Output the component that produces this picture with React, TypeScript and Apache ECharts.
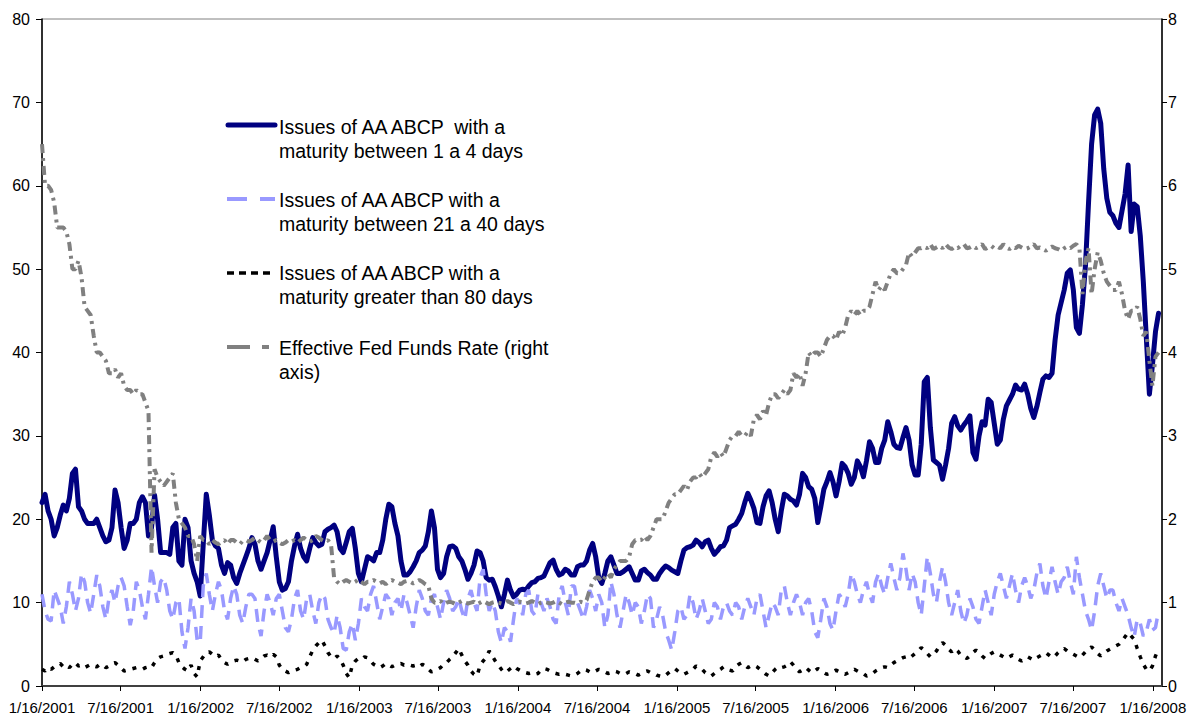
import React, { useEffect, useRef } from "react";
import * as echarts from "echarts";

// Weekly observations starting 1/16/2001
const START_Y = 2001, START_M = 0, START_D = 16;

const tickLabels = [
  "1/16/2001", "7/16/2001", "1/16/2002", "7/16/2002", "1/16/2003", "7/16/2003",
  "1/16/2004", "7/16/2004", "1/16/2005", "7/16/2005", "1/16/2006", "7/16/2006",
  "1/16/2007", "7/16/2007", "1/16/2008",
];
const axisEnd = "2/6/2008";

const legendNames = [
  "Issues of AA ABCP  with a\nmaturity between 1 a 4 days",
  "Issues of AA ABCP with a\nmaturity between 21 a 40 days",
  "Issues of AA ABCP with a\nmaturity greater than 80 days",
  "Effective Fed Funds Rate (right\naxis)",
];

const short1to4 = [
  22,23,21,20,18,19,20.5,21.7,21,22.5,
  25.5,26,21.5,21,20,19.5,19.5,19.5,20,19,
  18,17.3,17.5,19,23.5,22,19,16.5,17.5,19.5,
  19.5,20,22,22.7,22,18,19,22.9,20,16,
  16,16,15.8,19,19.5,15,14.5,20,19,15,
  13.5,12.5,10.8,17,23,20.5,17.5,16.8,16.5,14.5,
  13.5,14.8,14.5,13,12.3,13.5,14.5,15.5,16.5,17.8,
  17,15,14,15,16,17.5,19.1,15.5,12.5,11.5,
  11.7,12.5,15,16.8,18.2,16.5,15.5,15,16.5,17.8,
  17.2,16.8,17,18.5,18.8,19,19.3,18.5,16.5,16,
  17.2,18.5,18.9,16.5,13.5,12.5,14,15.5,15.3,15,
  16,16,17.5,20,21.8,21.5,19.5,18,15,13.3,
  13.3,13.7,14.3,15,16,16.3,16.8,18.5,21,19,
  14,13,13.5,15.5,16.7,16.8,16.5,15.5,15,14,
  12.8,13.5,14.5,16.2,16,15,13,12.7,12.8,11.9,
  10.8,9.5,11,12.7,11.5,10.7,11,11.5,11.6,11.5,
  12,12.4,12.5,12.9,13,13.2,14,14.8,15.1,14,
  13.3,13.5,14,13.8,13.3,13.3,14.3,14.5,14.5,15,
  16.3,17.1,15.5,13,12.3,13.5,15,15.5,14.5,13.5,
  13.5,13.7,14,14.3,13.5,12.7,12.7,13.8,14,13.6,
  13.3,12.8,12.8,13.5,14,14.4,14.2,13.9,13.7,13.5,
  15,16.3,16.6,16.7,16.9,17.5,17.2,16.7,17.3,17.5,
  16.5,15.8,16.2,16.7,16.8,17.5,19,19.2,19.4,20,
  20.7,22,23.1,22.3,21.3,19.6,19.5,21.5,22.8,23.4,
  22,20,18.5,21,23,22.8,22.4,22.2,21.7,23,
  25.5,25,23.9,23.6,22.5,19.6,21.5,23.6,24.5,25.6,
  24.5,22.8,24.5,26.7,26.3,25.5,24.2,25,27,26.3,
  25.1,27,29.3,28.5,26.8,26.8,28.5,29.5,31.7,30.5,
  29,28.6,28.5,29.8,31,29.5,26.5,25.3,25.3,29,
  36.5,37,31,27.1,26.8,26.5,24.8,26.5,28.5,31.5,
  32.3,31.2,30.7,31.3,31.8,32.4,28,27.2,30,31.7,
  31.3,34.4,34,31.5,29,29.5,32,33.6,34.3,35,
  36.1,35.6,35.5,36.2,35,33.3,32.2,33.5,35.2,36.8,
  37.2,37,37.5,41.5,44.5,46,47.5,49.5,49.9,47.5,
  43,42.3,45.8,50.5,58,65,68.5,69.2,67.5,62,
  58.5,56.8,56.4,55.5,55,57,59,62.5,54.5,57.8,
  57.5,54,48.5,41.7,35,38.5,42.5,44.7,
];

const mid21to40 = [
  11,9,8,7.8,11.5,10.5,9.5,7.5,9.5,12.5,
  11,9,10.5,13.5,12.5,10,8.7,11,13.3,12,
  9.5,8,10.5,11.5,10,12,13,12,9.5,7.3,
  9,12.5,11.5,9.5,8,11,14.3,12,10,12.5,
  13,11.5,9,8,10,10.5,6.5,4.5,7,10.5,
  9,5.5,5.2,12,13.5,11,9,11,12.5,11.5,
  9,8,10.5,12,11,8.5,7.5,9.5,11,11,
  10.5,7.5,6,9,11,10,8.5,10.5,11,9,
  7,6.5,8,10.5,11.5,9,8,10.5,11,9,
  7.5,10,11,10.5,8,7,6.3,8.5,7,4.5,
  4.3,6.5,7.5,5.5,7.5,10.5,9.5,9,11,12,
  10,8,9.5,11,10.5,8.5,10,10.5,9,11,
  10,8.5,7,9.5,11.5,10.5,9,8.5,10.5,11,
  9.5,8,10,11.5,10.5,9,9.5,10.5,9,8,
  10.5,11.5,10,9,13,14,11,9,10,9,
  6.5,5.2,7,6.5,5.3,8,10.5,10,8.5,11,
  11.5,9,8.5,11,10,9,10.5,9.5,8,7.5,
  11,12,10,8.5,12,12,10,9,8,9.5,
  11.5,10.5,9,11,10,7,8.5,12.5,11,8.5,
  7,9,11,10,8.5,10,9.5,7.5,9,11,
  10.5,7,8,9.5,8.5,6.5,5.5,4.3,6.5,9,
  9.5,8,8.5,11,10,8,9,10.5,9,7.5,
  8,10,9.5,8,9.5,10,9,8.5,10,9.5,
  8,9.5,10.5,9.5,8.5,10.5,11,9,7,8.5,
  10,9.5,8.5,11.5,12,10,8.5,10,11,10,
  8.5,10,10.5,9,6.5,5.8,8,10.5,9.5,7.5,
  6.7,9,11,10.5,9.5,11,13.5,12.5,11,10,
  11.5,12.5,11,10,12.5,13.5,12,11,13,14.7,
  13,11.5,13,15.9,14,11.5,13.5,12.5,10,8.5,
  12,15.5,13.5,11,10,12.5,14.3,12.5,10,8.5,
  10,11.5,9,7.5,8.5,10.5,9.5,8,7.5,9.5,
  11.5,10,8.5,11,12.5,13.5,12,10.5,12,13.5,
  11.5,10,12,13,12,10.5,11.5,13.5,14.7,12,
  10.5,12.5,14.3,12.5,11,12.5,13,14.3,12.5,11,
  15.5,13,11,9,8,6.7,9,12,13.5,12,
  10.5,11.5,11.5,10,9,10.5,9.5,8.5,7,5.9,
  8,7.5,6,6.5,8,6.7,7,9,
];

const long80plus = [
  2,1.8,2.2,2,2.3,2.5,2.7,2.3,2.5,2.2,
  2.6,2.8,2.4,2.5,2.2,2.4,2.6,2.4,2.3,2.6,
  2.5,2.2,2.4,2.7,2.8,2.5,2.2,1.8,1.9,2,
  2.1,2.2,2.1,2,2.2,2.3,2.2,2.8,3.3,3.5,
  3.6,3.8,3.9,4,3.7,2.8,2.3,2,1.8,2.5,
  1.5,1.1,3,3.5,4,4.1,3.8,3.5,3.7,3.2,
  2.8,2.6,2.8,3,3.1,3,2.9,3.2,3.3,3.4,
  3.2,3,3.3,3.6,3.7,3.5,3.8,3.5,2.5,2,
  1.8,1.6,1.8,1.9,2,2.2,2.3,2.6,3.5,4.3,
  4.8,5.2,5.5,4.8,4,3.5,3.3,3.6,3.2,2.5,
  1.5,1,2.5,3,3.3,3.2,3.5,3.4,3,2.6,
  2.4,2.2,2.4,2.7,2.5,2.3,2.5,2.6,2.7,2.5,
  2.6,2.5,2.4,2.5,2.3,2.6,2.4,2,1.7,1.8,
  2,2.2,2.6,2.8,3.2,3.5,4,4.5,3.7,3,
  2.5,1.8,1.4,1.2,2.5,3,3.4,4.2,3.6,3,
  2.5,2,1.6,1.8,2.1,2.4,2.1,1.9,1.7,1.6,
  1.5,1.6,1.4,1.5,1.9,2.1,2,1.8,1.6,1.5,
  1.4,1.5,1.4,1.3,1.2,1.3,1.5,1.8,2,1.9,
  1.7,1.6,1.8,2,1.9,1.7,1.5,1.6,1.8,1.7,
  1.5,1.4,1.5,1.7,1.6,1.5,1.3,1.5,1.7,1.8,
  1.6,1.5,1.3,1.2,1.1,1.3,1.6,1.9,2.1,1.8,
  1.5,1.4,1.6,1.8,2,2.4,2.2,2,1.6,1.4,
  1.2,1.5,1.8,2,2.3,2.1,1.9,1.8,2.3,2.6,
  2.8,2.5,2.2,2.4,2.5,2.3,2,1.7,1.4,1.2,
  1.6,2,2.3,2.2,2.3,2.5,2.9,2.5,2,1.7,
  1.9,2.2,1.9,1.6,1.8,2.1,1.9,1.6,1.4,1.5,
  1.7,1.9,1.7,1.5,1.4,1.6,1.8,2,1.8,1.6,
  1.5,1.2,1.3,1.5,1.8,2,2.2,2.3,2.2,2.5,
  2.8,3,3.2,3.4,3.5,3.3,3.6,3.9,4.2,4.6,
  4.3,3.9,3.5,3.8,4.2,4.8,5.2,4.9,4.4,4.1,
  4.5,4.2,3.7,3.5,3.3,3.6,4,4.3,4,3.6,
  3.3,3.6,3.9,4.1,3.9,3.7,3.5,3.3,3.5,3.7,
  3.5,3.2,3,3.2,3.5,3.3,3.1,3.4,3.6,3.8,
  4,3.7,3.4,3.6,4,4.3,4.5,4.2,4,3.8,
  3.6,3.4,3.7,4.1,4.4,4.7,4.3,3.9,3.6,3.9,
  4.2,4.4,4.6,4.8,5,5.4,5.9,6.4,6,5.6,
  4.5,3.5,2.6,2,1.8,2.4,3.6,4.4,
];

const fedFunds = [
  6.5,6,6,5.95,5.8,5.5,5.5,5.5,5.45,5.3,
  5,5,5.1,4.9,4.55,4.5,4.45,4.2,4,4,
  3.95,3.9,3.75,3.75,3.8,3.7,3.75,3.6,3.55,3.55,
  3.5,3.55,3.5,3.5,3.4,3.3,1.6,2.6,2.5,2.45,
  2.4,2.45,2.5,2.55,2.2,2,1.95,1.9,1.8,1.8,
  1.7,1.5,1.8,1.75,1.75,1.7,1.75,1.72,1.7,1.73,
  1.75,1.7,1.75,1.75,1.72,1.7,1.74,1.75,1.73,1.75,
  1.78,1.75,1.72,1.75,1.8,1.75,1.73,1.75,1.72,1.7,
  1.72,1.75,1.73,1.75,1.72,1.75,1.78,1.75,1.73,1.75,
  1.8,1.78,1.75,1.73,1.75,1.7,1.3,1.25,1.22,1.25,
  1.27,1.25,1.23,1.25,1.28,1.25,1.22,1.25,1.25,1.27,
  1.25,1.23,1.25,1.22,1.25,1.27,1.25,1.24,1.22,1.25,
  1.26,1.25,1.23,1.25,1.27,1.25,1.22,1.2,1.05,1,
  1,1.02,0.98,1,1.01,1,0.98,1,1.02,1,
  0.99,1,1.01,0.98,1,1.02,1,0.98,1,1.01,
  1,0.99,1,1.02,1,0.98,1,1.01,1,0.99,
  1,1.02,1,0.98,1,1.01,1,0.99,1,1.02,
  1,0.98,1,1.01,1,1,0.99,1.01,1,1.03,
  1.15,1.25,1.3,1.3,1.25,1.3,1.35,1.3,1.4,1.45,
  1.5,1.5,1.5,1.55,1.7,1.75,1.75,1.75,1.8,1.75,
  1.8,1.9,2,2,2,2.1,2.2,2.25,2.3,2.3,
  2.35,2.4,2.35,2.45,2.5,2.5,2.55,2.5,2.55,2.6,
  2.75,2.8,2.75,2.8,2.75,2.85,2.95,3,3,3.05,
  3,3,3.05,3,3.2,3.25,3.2,3.3,3.25,3.4,
  3.5,3.5,3.45,3.5,3.55,3.5,3.55,3.75,3.7,3.75,
  3.6,3.75,4,3.95,4,4,3.95,4.05,4.15,4.2,
  4.2,4.15,4.25,4.2,4.3,4.45,4.5,4.45,4.5,4.45,
  4.5,4.5,4.55,4.7,4.85,4.75,4.8,4.75,4.85,4.95,
  5,4.95,4.95,5,5.05,5.2,5.15,5.2,5.25,5.25,
  5.27,5.25,5.3,5.24,5.26,5.28,5.25,5.3,5.26,5.24,
  5.27,5.25,5.28,5.3,5.25,5.26,5.28,5.25,5.27,5.3,
  5.24,5.26,5.28,5.25,5.27,5.25,5.3,5.26,5.24,5.27,
  5.25,5.28,5.26,5.24,5.25,5.27,5.3,5.25,5.26,5.24,
  5.22,5.25,5.27,5.25,5.24,5.22,5.25,5.27,5.25,5.28,
  5.3,5.25,4.7,5.1,5.25,4.7,5,5.2,5.1,4.95,
  4.85,4.8,4.75,4.75,4.85,4.7,4.5,4.4,4.5,4.5,
  4.55,4.4,4.2,4.25,3.9,3.6,3.95,4,
];

const FONT = '"Liberation Sans", Arial, Helvetica, sans-serif';
const DAY = 86400000;
const START_MS = Date.UTC(START_Y, START_M, START_D);

// x coordinate = days since 1/16/2001
function dayOf(label: string) {
  const [m, d, y] = label.split("/").map(Number);
  return Math.round((Date.UTC(y, m - 1, d) - START_MS) / DAY);
}
function fmt(v: number) {
  const d = new Date(START_MS + Math.round(v) * DAY);
  return `${d.getUTCMonth() + 1}/${d.getUTCDate()}/${d.getUTCFullYear()}`;
}
const toPairs = (arr: number[]) => arr.map((v, i) => [i * 7, v]);

export default function App() {
  const ref = useRef<HTMLDivElement>(null);
  useEffect(() => {
    if (!ref.current) return;
    const chart = echarts.init(ref.current, null, { renderer: "svg" });
    const tickVals = tickLabels.map(dayOf);

    const legendIcons: any[] = [
      { type: "line", shape: { x1: 228, y1: 125, x2: 275, y2: 125 }, style: { stroke: "#000080", lineWidth: 5, lineCap: "round" } },
      { type: "line", shape: { x1: 227, y1: 199, x2: 275, y2: 199 }, style: { stroke: "#9999FF", lineWidth: 4, lineDash: [20, 13] } },
      { type: "line", shape: { x1: 227, y1: 273, x2: 270, y2: 273 }, style: { stroke: "#000000", lineWidth: 3.5, lineDash: [7, 5] } },
      { type: "line", shape: { x1: 227, y1: 347, x2: 269, y2: 347 }, style: { stroke: "#808080", lineWidth: 4, lineDash: [23, 12, 7, 12] } },
    ];
    const textTops = [115, 188, 261, 336];
    const legendTexts = legendNames.map((t, i) => ({
      type: "text",
      x: 279,
      y: textTops[i],
      style: { text: t, font: `19.5px ${FONT}`, fill: "#000", lineHeight: 24, verticalAlign: "top", align: "left" },
    }));

    const axisText = { color: "#000", fontFamily: FONT, fontSize: 16 };

    chart.setOption({
      animation: false,
      backgroundColor: "#ffffff",
      grid: { left: 42, right: 32, top: 19, bottom: 34, show: true, borderColor: "#808080", borderWidth: 1 },
      xAxis: {
        type: "value",
        min: 0,
        max: dayOf(axisEnd),
        axisLine: { show: true, onZero: false, lineStyle: { color: "#404040", width: 2 } },
        axisTick: { show: true, customValues: tickVals, length: 5, lineStyle: { color: "#000" } },
        axisLabel: { customValues: tickVals, formatter: (v: number) => fmt(v), color: "#000", fontFamily: FONT, fontSize: 15, margin: 14, hideOverlap: false },
        splitLine: { show: false },
      },
      yAxis: [
        {
          type: "value", min: 0, max: 80, interval: 10, position: "left",
          axisLine: { show: true, lineStyle: { color: "#000", width: 1.5 } },
          axisTick: { show: true, length: 6, lineStyle: { color: "#000" } },
          axisLabel: { ...axisText, margin: 12 },
          splitLine: { show: false },
        },
        {
          type: "value", min: 0, max: 8, interval: 1, position: "right",
          axisLine: { show: true, lineStyle: { color: "#000", width: 1.5 } },
          axisTick: { show: true, length: 5, lineStyle: { color: "#000" } },
          axisLabel: { ...axisText, margin: 6 },
          splitLine: { show: false },
        },
      ],
      series: [
        {
          name: legendNames[0], type: "line", yAxisIndex: 0, data: toPairs(short1to4),
          symbol: "none", showSymbol: false,
          lineStyle: { color: "#000080", width: 5, cap: "round", join: "round" },
        },
        {
          name: legendNames[1], type: "line", yAxisIndex: 0, data: toPairs(mid21to40),
          symbol: "none", showSymbol: false,
          lineStyle: { color: "#9999FF", width: 3.5, type: [13, 8], cap: "butt" },
        },
        {
          name: legendNames[2], type: "line", yAxisIndex: 0, data: toPairs(long80plus),
          symbol: "none", showSymbol: false,
          lineStyle: { color: "#000000", width: 3.5, type: [4, 7], cap: "butt" },
        },
        {
          name: legendNames[3], type: "line", yAxisIndex: 1, data: toPairs(fedFunds),
          symbol: "none", showSymbol: false,
          lineStyle: { color: "#808080", width: 4, type: [9, 5, 3, 5], cap: "butt" },
        },
      ],
      graphic: [...legendIcons, ...legendTexts],
    });
    return () => chart.dispose();
  }, []);
  return (
    <div
      ref={ref}
      style={{ position: "fixed", left: 0, top: 0, width: 1194, height: 720, background: "#fff" }}
    />
  );
}
